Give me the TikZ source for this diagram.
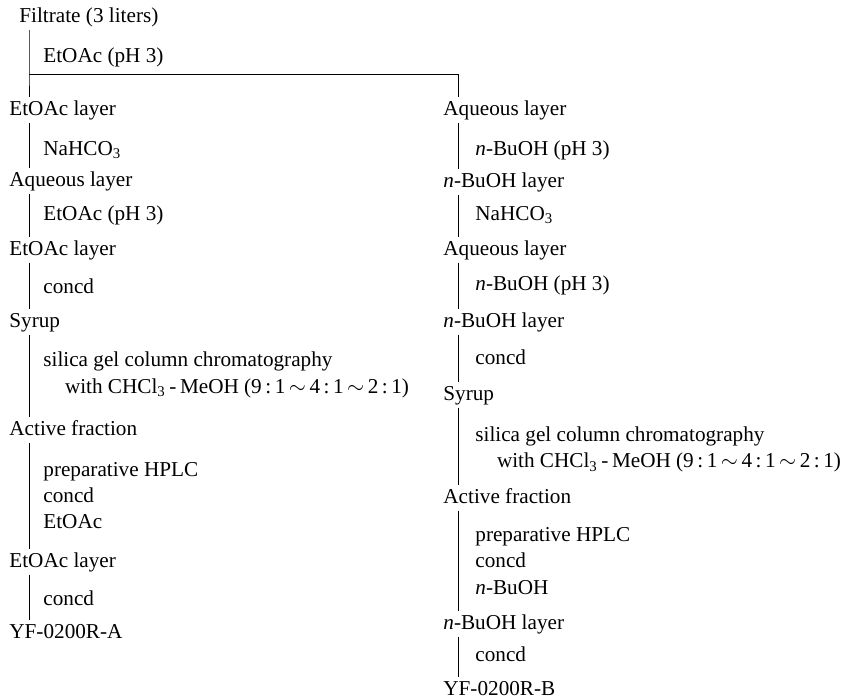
\documentclass[tikz,border=0pt]{standalone}
\usepackage{fontspec}
\setmainfont{Liberation Serif}
\tikzset{
  stage/.style={anchor=west, inner xsep=0pt, inner ysep=1.5pt, text height=7.2pt, text depth=2pt},
  cond/.style={anchor=west, inner xsep=0pt, inner ysep=1pt, align=left},
  flow/.style={line width=0.5pt}
}
\newcommand{\nbu}{\textit{n}-BuOH}
\newcommand{\silica}{silica gel column chromatography\\
  \hspace*{10.8pt}with CHCl\textsubscript{3}\,-\,MeOH (9\,:\,1\,$\sim$\,4\,:\,1\,$\sim$\,2\,:\,1)}
\begin{document}
\begin{tikzpicture}[x=0.5pt,y=-0.5pt,font=\fontsize{10.6}{13.2}\selectfont]
	\useasboundingbox (0,0) rectangle (841,700);
	\coordinate (lx) at (29,0);
	\coordinate (rx) at (458,0);
	\coordinate (split) at (29,75);
	% start
	\node[stage] (filt) at (19,17) {Filtrate (3 liters)};
	\node[cond] at (43,57) {EtOAc (pH 3)};
	% left column
	\node[stage] (a1) at (9,110) {EtOAc layer};
	\node[cond] at (43,150) {NaHCO\textsubscript{3}};
	\node[stage] (a2) at (9,181) {Aqueous layer};
	\node[cond] at (43,215) {EtOAc (pH 3)};
	\node[stage] (a3) at (9,250) {EtOAc layer};
	\node[cond] at (43,286) {concd};
	\node[stage] (a4) at (9,322) {Syrup};
	\node[cond] at (43,375) {\silica};
	\node[stage] (a5) at (9,430) {Active fraction};
	\node[cond] at (43,495.5) {preparative HPLC\\concd\\EtOAc};
	\node[stage] (a6) at (9,562) {EtOAc layer};
	\node[cond] at (43,598) {concd};
	\node[stage] (a7) at (9,633) {YF-0200R-A};
	% right column
	\node[stage] (b1) at (443,110) {Aqueous layer};
	\node[cond] at (475,150) {\nbu{} (pH 3)};
	\node[stage] (b2) at (443,182) {\nbu{} layer};
	\node[cond] at (475,215) {NaHCO\textsubscript{3}};
	\node[stage] (b3) at (443,250) {Aqueous layer};
	\node[cond] at (475,285) {\nbu{} (pH 3)};
	\node[stage] (b4) at (443,322) {\nbu{} layer};
	\node[cond] at (475,357) {concd};
	\node[stage] (b5) at (443,395) {Syrup};
	\node[cond] at (475,449.5) {\silica};
	\node[stage] (b6) at (443,498) {Active fraction};
	\node[cond] at (475,561) {preparative HPLC\\concd\\\nbu};
	\node[stage] (b7) at (443,624) {\nbu{} layer};
	\node[cond] at (475,654) {concd};
	\node[stage] (b8) at (443,690) {YF-0200R-B};
	% connectors
	\draw[flow] (filt.south -| lx) -- (split) -- (a1.north -| lx);
	\draw[flow] (split) -| (b1.north -| rx);
	\foreach \u/\v in {a1/a2,a2/a3,a3/a4,a4/a5,a5/a6,a6/a7}
		\draw[flow] (\u.south -| lx) -- (\v.north -| lx);
	\foreach \u/\v in {b1/b2,b2/b3,b3/b4,b4/b5,b5/b6,b6/b7,b7/b8}
		\draw[flow] (\u.south -| rx) -- (\v.north -| rx);
\end{tikzpicture}
\end{document}
